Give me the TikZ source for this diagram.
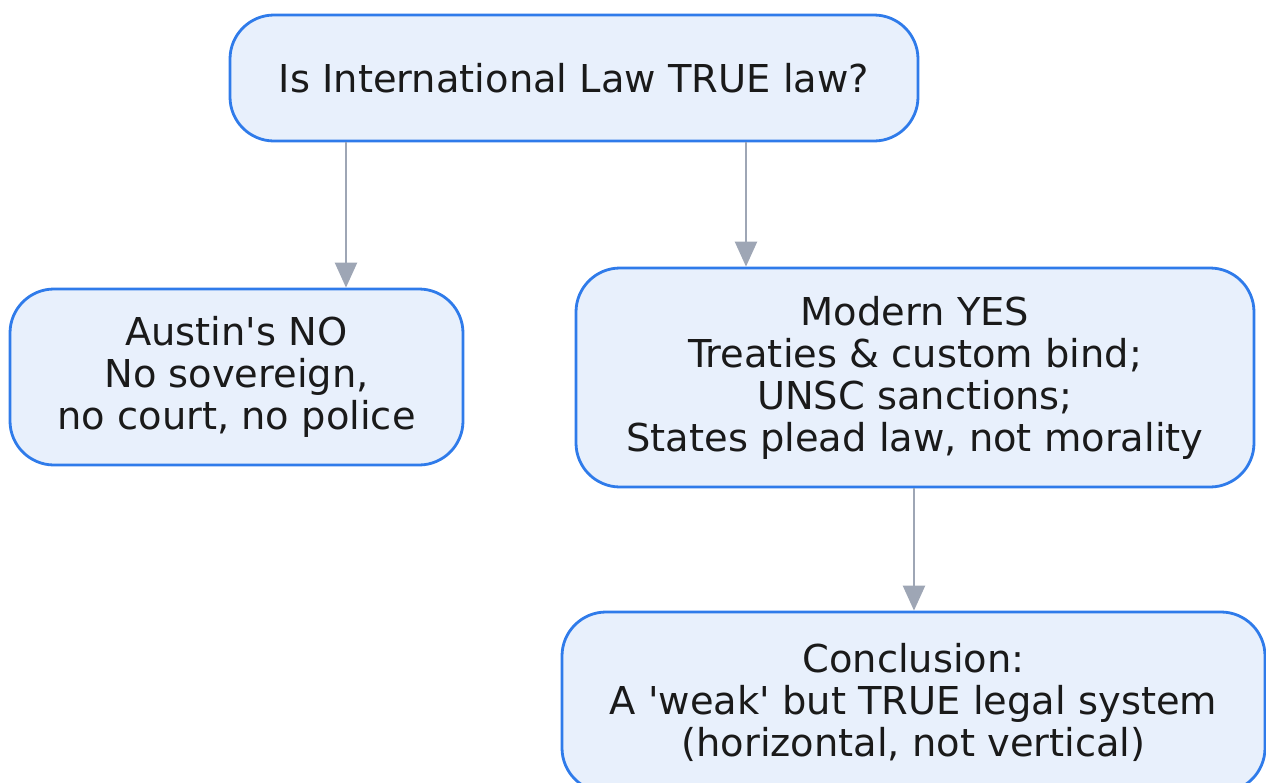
\documentclass[tikz,border=0pt]{standalone}
\usepackage{fontspec}
\setmainfont{DejaVu Sans}
\usetikzlibrary{arrows.meta}
\definecolor{boxfill}{HTML}{E8F0FC}
\definecolor{boxline}{HTML}{2F7BEA}
\definecolor{arrowgray}{HTML}{9EA6B5}
\definecolor{inktext}{HTML}{1A1A1A}
\begin{document}
\begin{tikzpicture}[x=0.5pt,y=-0.5pt,
  box/.style={draw=boxline, line width=1.4pt, fill=boxfill, rounded corners=22pt,
    align=center, text=inktext, inner sep=0pt,
    font=\fontsize{19.2pt}{21pt}\selectfont},
  arr/.style={draw=arrowgray, line width=1.2pt,
    -{Triangle[length=12.5pt,width=11pt]}}]
\useasboundingbox (0,0) rectangle (1266,783);
\node[box, minimum width=688*0.5pt, minimum height=126*0.5pt] (top) at (574,78)
  {Is International Law TRUE law?};
\node[box, minimum width=453*0.5pt, minimum height=176*0.5pt] (austin) at (236.5,377)
  {Austin\textquotesingle s NO\\No sovereign,\\no court, no police};
\node[box, minimum width=678*0.5pt, minimum height=219*0.5pt] (modern) at (915,377.5)
  {Modern YES\\Treaties \& custom bind;\\UNSC sanctions;\\States plead law, not morality};
\node[box, minimum width=703*0.5pt, minimum height=180*0.5pt] (concl) at (913.5,702)
  {Conclusion:\\A \textquotesingle weak\textquotesingle{} but TRUE legal system\\(horizontal, not vertical)};
\draw[arr] ([xshift=-114pt]top.south) -- ([xshift=-114pt]top.south |- austin.north);
\draw[arr] ([xshift=86pt]top.south) -- ([xshift=86pt]top.south |- modern.north);
\draw[arr] ([xshift=-0.5pt]modern.south) -- ([xshift=-0.5pt]modern.south |- concl.north);
\end{tikzpicture}
\end{document}
